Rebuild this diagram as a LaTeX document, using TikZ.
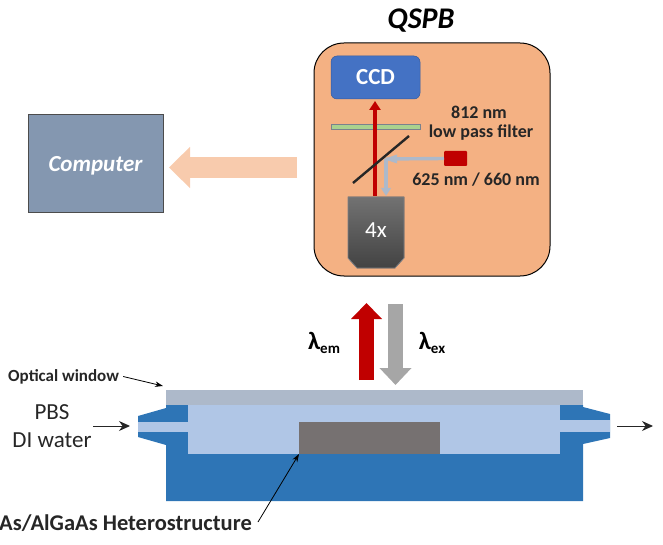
\documentclass[tikz,border=0pt]{standalone}
\usepackage{fontspec}
\setmainfont{Carlito}
\usetikzlibrary{arrows.meta}
\definecolor{panel}{HTML}{F4B183}
\definecolor{ccd}{HTML}{4472C4}
\definecolor{filt}{HTML}{A9D18E}
\definecolor{laser}{HTML}{C00000}
\definecolor{beam}{HTML}{ADB9CA}
\definecolor{lens}{HTML}{595959}
\definecolor{comp}{HTML}{8497B0}
\definecolor{flow}{HTML}{F8CBAD}
\definecolor{windowc}{HTML}{ADB9CA}
\definecolor{body}{HTML}{2E75B6}
\definecolor{fluid}{HTML}{B0C6E6}
\definecolor{chip}{HTML}{767171}
\tikzset{
  x=1pt,y=-1pt,
  box/.style={minimum width=#1,inner sep=0pt,outer sep=0pt,anchor=north west},
  lbl/.style={font=\bfseries\fontsize{18}{20}\selectfont,text=black!85,inner sep=0pt},
  plain/.style={font=\fontsize{23}{25}\selectfont,text=black!85,inner sep=0pt},
  thinarrow/.style={draw=black!85,line width=1pt,-{Stealth[length=11pt,width=10pt]}},
  hairarrow/.style={draw=black,line width=.8pt,-{Stealth[length=8pt,width=5.5pt]}}
}
\begin{document}
\begin{tikzpicture}
\useasboundingbox (0,0) rectangle (663,545);

% Reader head
\node (title) at (421,21) {\bfseries\itshape\fontsize{30}{32}\selectfont QSPB};
\node[box=236pt,minimum height=233pt,draw=black,line width=1pt,fill=panel,rounded corners=30pt] (panel) at (314,43) {};
\node[box=89pt,minimum height=43pt,fill=ccd,draw=ccd!80!black,line width=.5pt,rounded corners=6pt,
      text=white,font=\bfseries\fontsize{23}{25}\selectfont] (ccd) at (331,56) {\raisebox{-7.5pt}[0pt][0pt]{CCD}};
\node[box=89pt,minimum height=5pt,fill=filt,draw=beam!70!black,line width=.5pt] (filter) at (331,124) {};
\node[box=23pt,minimum height=15pt,fill=laser,rounded corners=1pt] (laser) at (444,151) {};

% Objective with a chamfered nose
\fill[top color=lens!85!white,bottom color=lens!75!black,draw=beam!40!lens,line width=.8pt]
  (348,197) -- (404,197) -- (404,258) -- (395,268) -- (357,268) -- (348,258) -- cycle;
\node[inner sep=0pt,text=white,font=\fontsize{23}{25}\selectfont] (lens) at (376,230) {4x};
\coordinate (lenstop) at (375,196);
\coordinate (lensin) at (386,196);
\coordinate (turn) at (386,159);
\coordinate (ccdin) at (375,101);

% Excitation path, folded at the mirror
\draw[beam,line width=3.4pt] (laser.west) -- (turn);
\draw[beam,line width=3.4pt,-{Triangle[length=8pt,width=9.5pt]}] (turn) -- (lensin);
\fill[beam] (384,159) -- (397,154.5) -- (397,163.5) -- cycle;
% Emission path through the dichroic mirror
\draw[laser,line width=3.6pt,-{Triangle[length=9pt,width=11pt]}] (lenstop) -- (ccdin);
\coordinate (mirrora) at (353,183);
\coordinate (mirrorb) at (409,136);
\draw[black!85,line width=2.4pt] (mirrora) -- (mirrorb);

\node[lbl] (cut) at (479,112) {812 nm};
\node[lbl] (pass) at (481,133) {low pass filter};
\node[lbl] (wl) at (476,180) {625 nm / 660 nm};

% Computer and data arrow
\node[box=135pt,minimum height=98pt,fill=comp,draw=black!70,line width=.8pt,
      text=white,font=\bfseries\itshape\fontsize{23}{25}\selectfont] (computer) at (28,114) {\raisebox{-9pt}[0pt][0pt]{Computer}};
\coordinate (flowfrom) at (297,167.5);
\coordinate (flowto) at (169,167.5);
\draw[flow,line width=21pt,-{Triangle[length=21pt,width=40pt]}] (flowfrom) -- (flowto);

% Beams between reader head and flow cell
\coordinate (emfrom) at (366.5,380);
\coordinate (emto) at (366.5,303);
\coordinate (exfrom) at (395.5,304);
\coordinate (exto) at (395.5,385);
\draw[laser,line width=15pt,-{Triangle[length=16pt,width=30pt]}] (emfrom) -- (emto);
\draw[black!35,line width=15pt,-{Triangle[length=17pt,width=31pt]}] (exfrom) -- (exto);
\node[inner sep=0pt,font=\bfseries\fontsize{25}{26}\selectfont] (lem) at (324,343) {λ\raisebox{-.4ex}{\fontsize{15}{15}\selectfont em}};
\node[inner sep=0pt,font=\bfseries\fontsize{25}{26}\selectfont] (lex) at (432,343) {λ\raisebox{-.4ex}{\fontsize{15}{15}\selectfont ex}};

% Flow cell
\fill[body] (166,405) -- (166,408) -- (138,416) -- (138,437) -- (166,445) -- (166,501) -- (583,501)
  -- (583,444) -- (610,438) -- (610,414) -- (583,407) -- (583,405) -- cycle;
\node[box=372pt,minimum height=49pt,fill=fluid] (chamber) at (188,405) {};
\node[box=50pt,minimum height=10pt,fill=fluid] (inlet) at (138,422) {};
\node[box=50pt,minimum height=12pt,fill=fluid] (outlet) at (560,420) {};
\node[box=141pt,minimum height=32pt,fill=chip] (chip) at (299,422) {};
\node[box=417pt,minimum height=15pt,fill=windowc] (window) at (166,390) {};

% Labels and leaders
\node[lbl,font=\bfseries\fontsize{17}{19}\selectfont,anchor=west] (optical) at (8,376.5) {Optical window};
\coordinate (windowtip) at (163,386);
\draw[hairarrow] (optical.east) ++(4,0) -- (windowtip);
\node[plain] (pbs) at (52,412) {PBS};
\node[plain] (diw) at (52,440) {DI water};
\coordinate (infrom) at (93,426);
\coordinate (into) at (130,426);
\draw[thinarrow] (infrom) -- (into);
\coordinate (outfrom) at (617,426);
\coordinate (outto) at (653,426);
\draw[thinarrow] (outfrom) -- (outto);
\node[inner sep=0pt,anchor=east,font=\bfseries\fontsize{22.5}{24}\selectfont,text=black!85] (hetero) at (252,523) {As/AlGaAs Heterostructure};
\coordinate (heterofrom) at (258,522);
\draw[hairarrow] (heterofrom) -- (chip.south west);
\end{tikzpicture}
\end{document}
